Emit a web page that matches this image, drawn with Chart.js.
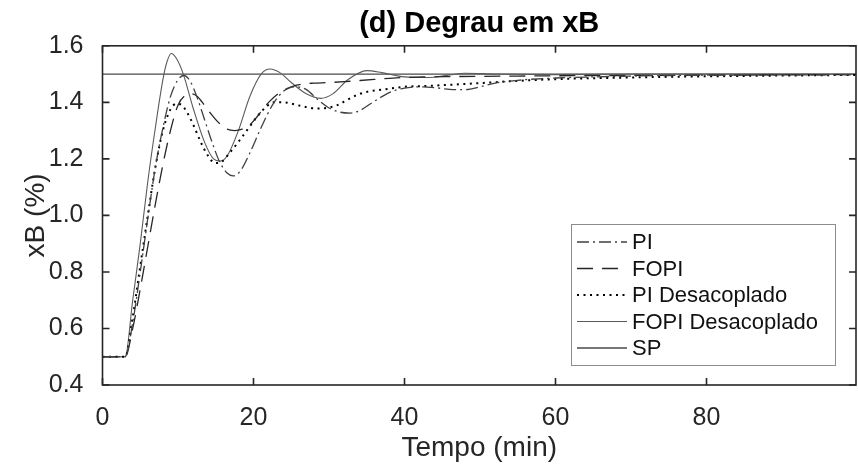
<!DOCTYPE html>
<html>
<head>
<meta charset="utf-8">
<title>Degrau em xB</title>
<script src="https://cdn.jsdelivr.net/npm/chart.js@4.4.1/dist/chart.umd.min.js"></script>
<style>
  html, body { margin: 0; padding: 0; background: #fff; }
  #wrap { width: 858px; height: 467px; }
</style>
</head>
<body>
<div id="wrap"><canvas id="chart"></canvas></div>
<script>
// data (tempo in min, xB in %)
const piT   = [0, 3, 4, 5, 6, 7, 8, 9, 10, 10.8, 11.6, 12.5, 13.5, 14.5, 15.5, 16.5, 17.3, 18.2, 19.5, 21, 22.5, 24, 25.5, 27, 28.5, 30, 31.5, 32.8, 34, 35.5, 37, 38.5, 40, 42, 44, 46, 48, 50, 52, 55, 60, 65, 70, 80, 90, 99.8];
const piV   = [0.5, 0.5, 0.62, 0.8, 0.99, 1.17, 1.31, 1.42, 1.48, 1.495, 1.475, 1.42, 1.34, 1.26, 1.19, 1.15, 1.14, 1.155, 1.22, 1.31, 1.39, 1.44, 1.455, 1.445, 1.41, 1.38, 1.365, 1.362, 1.37, 1.395, 1.42, 1.44, 1.45, 1.455, 1.452, 1.446, 1.445, 1.455, 1.468, 1.478, 1.486, 1.49, 1.493, 1.496, 1.497, 1.498];

const fopiT = [0, 3, 4, 5, 6, 7, 8, 9, 10, 11, 11.8, 12.6, 13.5, 14.5, 15.5, 16.5, 17.5, 18.5, 19.5, 20.5, 22, 23.5, 25, 26.5, 28, 30, 32, 34, 36, 38, 40, 43, 46, 50, 55, 60, 70, 80, 99.8];
const fopiV = [0.5, 0.5, 0.6, 0.74, 0.89, 1.04, 1.18, 1.3, 1.39, 1.425, 1.43, 1.42, 1.39, 1.355, 1.325, 1.305, 1.3, 1.305, 1.32, 1.35, 1.4, 1.435, 1.455, 1.465, 1.468, 1.47, 1.473, 1.477, 1.481, 1.485, 1.488, 1.49, 1.491, 1.492, 1.493, 1.494, 1.495, 1.496, 1.498];

const piDesT = [0, 3, 4, 5, 6, 7, 8, 9, 9.8, 10.5, 11.3, 12.2, 13, 14, 14.9, 15.8, 16.8, 18, 19.1, 20.5, 21.7, 22.7, 24, 25.8, 27, 28.4, 30, 31.1, 32.5, 33.7, 35, 36.5, 38.2, 40, 43, 46, 50, 55, 60, 70, 80, 99.8];
const piDesV = [0.5, 0.5, 0.64, 0.82, 1.0, 1.17, 1.3, 1.375, 1.395, 1.39, 1.36, 1.31, 1.26, 1.21, 1.185, 1.19, 1.22, 1.26, 1.3, 1.35, 1.385, 1.4, 1.4, 1.39, 1.383, 1.378, 1.382, 1.39, 1.41, 1.426, 1.437, 1.443, 1.449, 1.455, 1.458, 1.462, 1.468, 1.476, 1.482, 1.488, 1.492, 1.497];

const fopiDesT = [0, 3, 4, 5, 6, 7, 8, 8.5, 9.1, 9.8, 10.7, 12, 13.5, 14.7, 15.6, 16.5, 18, 19.5, 21, 22.2, 23.5, 25, 27, 28.9, 30.5, 32.5, 35, 37, 40, 43, 46, 48, 52, 60, 70, 99.8];
const fopiDesV = [0.5, 0.5, 0.7, 0.9, 1.12, 1.31, 1.48, 1.54, 1.573, 1.555, 1.5, 1.38, 1.26, 1.2, 1.192, 1.21, 1.3, 1.42, 1.5, 1.518, 1.505, 1.47, 1.43, 1.414, 1.43, 1.48, 1.512, 1.505, 1.49, 1.488, 1.497, 1.503, 1.5, 1.498, 1.5, 1.5];

const spT = [0, 99.8];
const spV = [1.5, 1.5];

const xTicks = [0, 20, 40, 60, 80];
const yTicks = [0.4, 0.6, 0.8, 1.0, 1.2, 1.4, 1.6];

const AXIS = '#262626';
const FONT = '"Liberation Sans", Arial, sans-serif';

const pts = (t, v) => t.map((x, i) => ({ x, y: v[i] }));

function line(label, t, v, color, width, dash) {
  return {
    label, data: pts(t, v),
    borderColor: color, borderWidth: width, borderDash: dash,
    pointRadius: 0, fill: false, cubicInterpolationMode: 'monotone'
  };
}

// box, inward ticks on all four sides, and the legend inside the axes
const framePlugin = {
  id: 'frame',
  afterDatasetsDraw(chart) {
    const { ctx, chartArea: a, scales: { x, y } } = chart;
    ctx.save();
    ctx.strokeStyle = AXIS;
    ctx.lineWidth = 1.6;
    ctx.strokeRect(a.left, a.top, a.right - a.left, a.bottom - a.top);
    const tl = 7;
    ctx.beginPath();
    x.ticks.forEach(t => {
      const px = x.getPixelForValue(t.value);
      ctx.moveTo(px, a.bottom); ctx.lineTo(px, a.bottom - tl);
      ctx.moveTo(px, a.top);    ctx.lineTo(px, a.top + tl);
    });
    y.ticks.forEach(t => {
      const py = y.getPixelForValue(t.value);
      ctx.moveTo(a.left, py);  ctx.lineTo(a.left + tl, py);
      ctx.moveTo(a.right, py); ctx.lineTo(a.right - tl, py);
    });
    ctx.stroke();

    // legend
    const sets = chart.data.datasets;
    const rowH = 26.5, w = 264, h = sets.length * rowH + 8.5;
    const right = a.right - 21, bottom = a.bottom - 20;
    const left = right - w, top = bottom - h;
    ctx.fillStyle = '#fff';
    ctx.fillRect(left, top, w, h);
    ctx.strokeStyle = '#8c8c8c';
    ctx.lineWidth = 1;
    ctx.strokeRect(left + 0.5, top + 0.5, w, h);
    ctx.font = '22px ' + FONT;
    ctx.textBaseline = 'middle';
    ctx.textAlign = 'left';
    sets.forEach((d, i) => {
      const cy = top + 18 + i * rowH;
      ctx.beginPath();
      ctx.strokeStyle = d.borderColor;
      ctx.lineWidth = d.borderWidth;
      ctx.setLineDash(d.borderDash || []);
      ctx.moveTo(left + 6, cy); ctx.lineTo(left + 56, cy);
      ctx.stroke();
      ctx.setLineDash([]);
      ctx.fillStyle = '#111';
      ctx.fillText(d.label, left + 61, cy + 1);
    });
    ctx.restore();
  }
};

new Chart(document.getElementById('chart'), {
  type: 'line',
  data: {
    datasets: [
      line('PI', piT, piV, '#404040', 1.3, [12, 4, 2, 4]),
      line('FOPI', fopiT, fopiV, '#262626', 1.3, [16, 9]),
      line('PI Desacoplado', piDesT, piDesV, '#000', 2, [2, 4.5]),
      line('FOPI Desacoplado', fopiDesT, fopiDesV, '#5a5a5a', 1.1, []),
      line('SP', spT, spV, '#4a4a4a', 1.3, [])
    ]
  },
  options: {
    responsive: true,
    maintainAspectRatio: false,
    animation: false,
    layout: { padding: { left: 0, right: 2, top: 0, bottom: 0 } },
    plugins: {
      legend: { display: false },
      tooltip: { enabled: false },
      title: {
        display: true,
        fullSize: false,
        text: '(d) Degrau em xB',
        color: '#000',
        font: { family: FONT, size: 29, weight: 'bold' },
        padding: { top: 7, bottom: 4 }
      }
    },
    scales: {
      x: {
        type: 'linear', min: 0, max: 99.8,
        afterBuildTicks: s => { s.ticks = xTicks.map(value => ({ value })); },
        afterFit: s => { s.height = 82; },
        grid: { display: false },
        border: { display: false },
        ticks: { color: AXIS, padding: 10, font: { family: FONT, size: 25 }, maxRotation: 0 },
        title: { display: true, text: 'Tempo (min)', color: AXIS, font: { family: FONT, size: 28 }, padding: { top: 0, bottom: 2 } }
      },
      y: {
        min: 0.4, max: 1.6,
        afterBuildTicks: s => { s.ticks = yTicks.map(value => ({ value })); },
        afterFit: s => { s.width = 102.5; },
        grid: { display: false },
        border: { display: false },
        ticks: { color: AXIS, padding: 11, font: { family: FONT, size: 25 }, callback: v => v.toFixed(1) },
        title: { display: true, text: 'xB (%)', color: AXIS, font: { family: FONT, size: 28 }, padding: { top: 19, bottom: 0 } }
      }
    }
  },
  plugins: [framePlugin]
});
</script>
</body>
</html>
